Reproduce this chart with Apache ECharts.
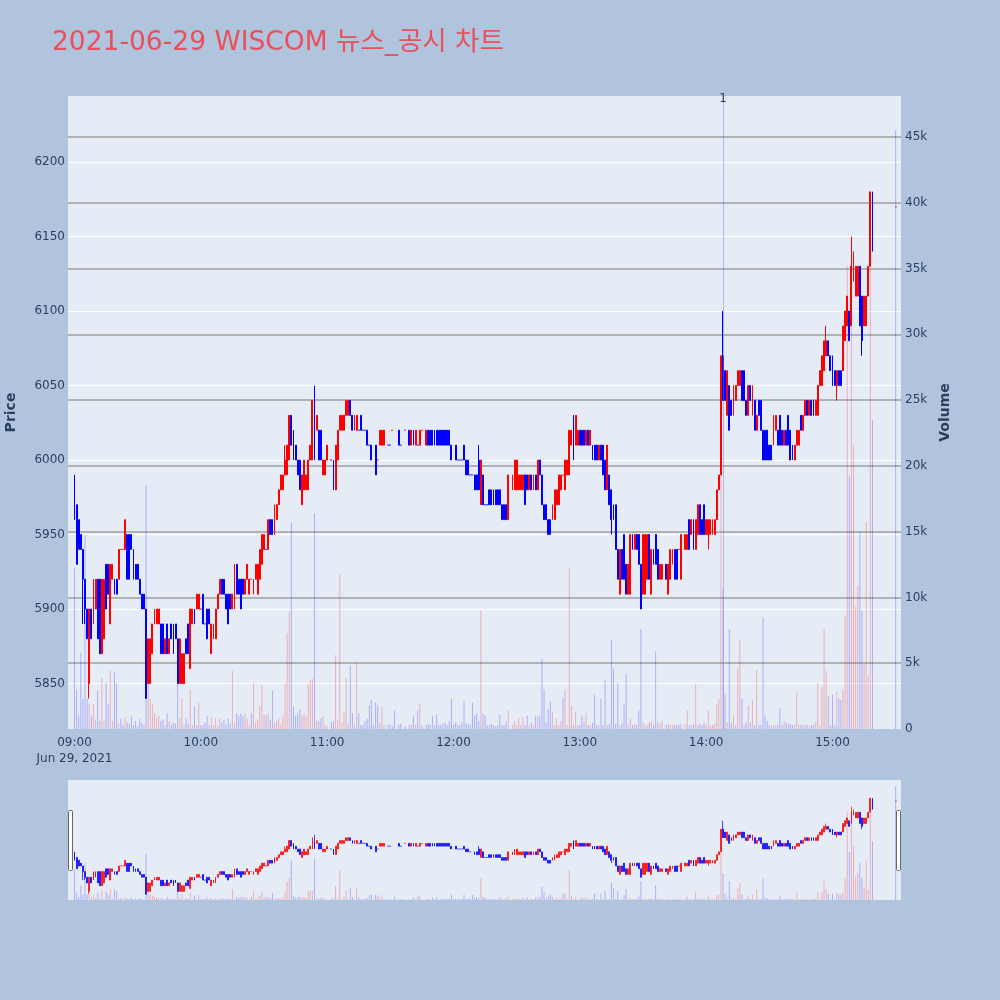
<!DOCTYPE html>
<html><head><meta charset="utf-8">
<script src="https://cdn.jsdelivr.net/npm/echarts@6/dist/echarts.min.js"></script>
<style>html,body{margin:0;padding:0;background:#b0c4de}#c{width:1000px;height:1000px}</style>
</head><body><div id="c"></div>
<script>
const TITLE = '2021-06-29 WISCOM 뉴스_공시 차트';
const EVENT_MINUTE = 308;      // annotation line (14:08)
const EVENT_LABEL = '1';
const PRICE_RANGE = [5819.5, 6244.3];
const VOLUME_RANGE = [0, 48110];
const X_RANGE_MIN = [-2.85, 392.3]; // minutes after 09:00

// rows: [minute after 09:00, open, close, low, high, volume]
const bars0900 = [
[0,5990,5960,5960,5990,12200],[1,5970,5930,5930,5970,3000],[2,5960,5940,5940,5960,1000],[3,5950,5940,5940,5950,5800],[4,5940,5920,5890,5940,2300],[5,5920,5900,5890,5920,14700],[6,5900,5880,5880,5900,2300],[7,5850,5900,5840,5900,1900],[8,5900,5880,5880,5900,1000],[9,5890,5920,5890,5920,1900],
[10,5900,5920,5900,5920,700],[11,5920,5880,5880,5920,2900],[12,5920,5870,5870,5920,600],[13,5870,5920,5870,5920,3900],[14,5880,5920,5880,5920,600],[15,5930,5900,5900,5930,3500],[16,5930,5910,5910,5930,1900],[17,5890,5930,5890,5930,4500],[18,5920,5930,5920,5930,600],[19,5920,5910,5910,5920,4300],
[20,5920,5910,5910,5920,3500],[21,5920,5940,5920,5940,400],[22,5940,5940,5940,5940,800],[23,5940,5940,5940,5940,300],[24,5940,5960,5940,5960,900],[25,5950,5920,5920,5950,500],[26,5950,5920,5920,5950,400],[27,5950,5940,5940,5950,1000],[28,5940,5920,5920,5940,300],[29,5930,5920,5920,5930,600],
[30,5930,5920,5920,5930,200],[31,5920,5910,5910,5920,800],[32,5910,5900,5900,5910,500],[33,5910,5900,5900,5910,300],[34,5900,5840,5840,5900,18500],[35,5850,5880,5850,5880,3500],[36,5850,5880,5850,5880,2300],[37,5870,5890,5870,5890,1900],[38,5890,5900,5890,5900,1200],[39,5890,5900,5890,5900,800],
[40,5890,5900,5890,5900,1000],[41,5890,5870,5870,5890,600],[42,5890,5870,5870,5890,700],[43,5870,5880,5870,5880,300],[44,5890,5870,5870,5890,1200],[45,5870,5880,5870,5880,600],[46,5890,5880,5880,5890,300],[47,5890,5870,5870,5890,500],[48,5890,5880,5880,5890,400],[49,5880,5850,5850,5880,3400],
[50,5850,5880,5850,5880,800],[51,5850,5870,5850,5870,2300],[52,5850,5870,5850,5870,300],[53,5880,5870,5870,5880,800],[54,5890,5870,5870,5890,400],[55,5860,5900,5860,5900,3000],[56,5890,5900,5890,5900,300],[57,5900,5890,5890,5900,1700],[58,5900,5910,5900,5910,300],[59,5900,5910,5900,5910,2000]
];
const bars1000 = [
[60,5900,5900,5900,5900,300],[61,5910,5890,5890,5910,300],[62,5890,5890,5890,5890,500],[63,5900,5880,5880,5900,1000],[64,5900,5890,5890,5900,300],[65,5870,5890,5870,5890,900],[66,5880,5890,5880,5890,300],[67,5880,5900,5880,5900,800],[68,5900,5910,5900,5910,200],[69,5910,5920,5910,5920,800],
[70,5920,5910,5910,5920,500],[71,5920,5910,5910,5920,700],[72,5910,5900,5900,5910,300],[73,5910,5890,5890,5910,800],[74,5910,5900,5900,5910,400],[75,5900,5910,5900,5910,4400],[76,5900,5930,5900,5930,500],[77,5930,5910,5910,5930,1200],[78,5920,5910,5910,5920,1000],[79,5920,5900,5900,5920,1200],
[80,5920,5910,5910,5920,1000],[81,5910,5920,5910,5920,1200],[82,5920,5930,5920,5930,800],[83,5910,5920,5910,5920,300],[84,5920,5920,5920,5920,1200],[85,5910,5920,5910,5920,3500],[86,5920,5930,5920,5930,500],[87,5910,5930,5910,5930,700],[88,5920,5940,5920,5940,1700],[89,5930,5950,5930,5950,3300],
[90,5940,5950,5940,5950,1100],[91,5940,5940,5940,5940,1000],[92,5940,5960,5940,5960,1200],[93,5960,5950,5950,5960,700],[94,5960,5950,5950,5960,2900],[95,5950,5970,5950,5970,500],[96,5960,5970,5960,5970,600],[97,5970,5980,5970,5980,800],[98,5980,5990,5980,5990,400],[99,5980,5990,5980,5990,1000],
[100,5990,6000,5990,6010,3500],[101,5990,6010,5990,6010,7300],[102,6000,6030,6000,6030,8900],[103,6030,6010,6010,6030,15700],[104,6020,6000,6000,6020,1700],[105,6010,6000,6000,6010,1000],[106,6000,5990,5990,6000,1200],[107,6000,5980,5980,6000,1500],[108,5970,5990,5970,5990,1000],[109,5980,6000,5980,6000,1200],
[110,5980,5990,5980,5990,1000],[111,5980,6000,5980,6000,3400],[112,6000,6010,6000,6010,3700],[113,6000,6040,6000,6040,3800],[114,6030,6000,6000,6050,16400],[115,6020,6030,6020,6030,700],[116,6020,6000,6000,6020,600],[117,6020,6000,6000,6020,800],[118,5990,6000,5990,6000,1000],[119,5990,6000,5990,6000,300]
];
const bars1100 = [
[120,6000,6010,6000,6010,200],[122,6000,6000,6000,6000,500],[123,6000,5980,5980,6000,600],[124,5980,6010,5980,6010,5600],[125,6000,6020,6000,6020,700],[126,6020,6030,6020,6030,11700],[127,6020,6030,6020,6030,500],[128,6020,6030,6020,6030,1300],[129,6030,6040,6030,6040,3900],
[130,6030,6040,6030,6040,400],[131,6040,6030,6030,6040,4800],[132,6030,6020,6020,6030,1200],[133,6020,6030,6020,6030,300],[134,6020,6030,6020,6030,5100],[135,6020,6020,6020,6020,1200],[136,6030,6020,6020,6030,300],[137,6020,6020,6020,6020,300],[138,6020,6020,6020,6020,600],[139,6020,6010,6010,6020,800],
[140,6010,6010,6010,6010,1800],[141,6010,6000,6000,6010,2200],[142,6000,6000,6000,6000,300],[143,6010,5990,5990,6010,2000],[144,6000,6000,6000,6000,1800],[145,6010,6020,6010,6020,500],[146,6010,6020,6010,6020,1700],[147,6010,6020,6010,6020,300],[149,6010,6010,6010,6010,300],
[150,6010,6010,6010,6010,300],[151,6020,6020,6020,6020,200],[152,6010,6010,6010,6010,1400],[154,6020,6010,6010,6020,300],[155,6010,6010,6010,6010,400],[157,6020,6020,6020,6020,200],[159,6020,6010,6010,6020,300],
[160,6010,6020,6010,6020,300],[161,6020,6010,6010,6020,1000],[162,6010,6020,6010,6020,300],[163,6010,6010,6010,6010,1400],[164,6010,6020,6010,6020,1900],[165,6020,6020,6020,6020,300],[167,6010,6020,6010,6020,300],[168,6020,6010,6010,6020,400],[169,6020,6010,6010,6020,300],
[170,6020,6010,6010,6020,1000],[171,6020,6010,6010,6020,300],[172,6020,6010,6010,6020,1100],[173,6020,6010,6010,6020,300],[174,6020,6010,6010,6020,300],[175,6020,6010,6010,6020,400],[176,6020,6010,6010,6020,500],[177,6020,6010,6010,6020,300],[178,6020,6010,6010,6020,600],[179,6010,6000,6000,6010,2300]
];
const bars1200 = [
[180,6000,6000,6000,6000,300],[181,6010,6000,6000,6010,500],[182,6000,6000,6000,6000,300],[183,6000,6000,6000,6000,300],[184,6000,6000,6000,6000,500],[185,6010,6000,6000,6010,2100],[186,6000,5990,5990,6000,400],[187,6000,5990,5990,6000,400],[188,5990,5990,5990,5990,300],[189,5990,5990,5990,5990,2000],
[190,5990,5980,5980,5990,1000],[191,5990,5980,5980,5990,1200],[192,6000,5980,5980,6010,600],[193,5970,6000,5970,6000,9000],[194,5990,5970,5970,5990,1200],[195,5970,5970,5970,5970,1000],[196,5970,5970,5970,5970,300],[197,5980,5970,5970,5980,300],[198,5980,5970,5970,5980,400],[199,5980,5970,5970,5980,300],
[200,5980,5970,5970,5980,200],[201,5980,5970,5970,5980,300],[202,5980,5970,5970,5980,1100],[203,5970,5960,5960,5970,300],[204,5970,5960,5960,5970,300],[205,5970,5960,5960,5970,600],[206,5960,5990,5960,5990,1400],[208,5980,5990,5980,5990,300],[209,5980,6000,5980,6000,600],
[210,5980,6000,5980,6000,300],[211,5980,5990,5980,5990,800],[212,5980,5990,5980,5990,300],[213,5980,5990,5980,5990,900],[214,5990,5970,5970,5990,300],[215,5990,5980,5980,5990,1000],[216,5980,5990,5980,5990,300],[217,5990,5980,5980,5990,500],[218,5980,5990,5980,5990,300],[219,5990,5980,5980,5990,1000],
[220,5980,6000,5980,6000,1000],[221,6000,5990,5990,6000,1000],[222,5990,5970,5970,5990,5300],[223,5970,5960,5960,5970,3000],[224,5970,5960,5960,5970,500],[225,5960,5950,5950,5960,1500],[226,5960,5950,5950,5960,2100],[227,5960,5970,5960,5970,1300],[228,5960,5980,5960,5980,300],[229,5970,5980,5970,5980,800],
[230,5970,5990,5970,5990,300],[231,5980,5990,5980,5990,600],[232,5990,5990,5990,5990,2400],[233,5980,6000,5980,6000,3000],[234,5990,6000,5990,6000,300],[235,5990,6020,5990,6020,12200],[236,6010,6020,6010,6020,1700],[237,6030,6000,6000,6030,300],[238,6010,6030,6010,6030,1300],[239,6010,6020,6010,6020,300]
];
const bars1300 = [
[240,6020,6010,6010,6020,300],[241,6020,6010,6010,6020,1000],[242,6020,6010,6010,6020,500],[243,6010,6020,6010,6020,1200],[244,6020,6010,6010,6020,300],[245,6010,6020,6010,6020,300],[246,6010,6000,6000,6010,500],[247,6010,6000,6000,6010,2600],[248,6010,6000,6000,6010,300],[249,6000,6010,6000,6010,300],
[250,6010,6000,6000,6010,2300],[251,6010,5990,5990,6010,300],[252,6000,5980,5980,6000,3700],[253,5980,6010,5980,6010,300],[254,5990,5970,5970,5990,400],[255,5980,5960,5950,5980,6800],[256,5970,5960,5960,5970,4600],[257,5970,5940,5940,5970,400],[258,5940,5920,5920,5940,3500],[259,5910,5940,5910,5940,300],
[260,5940,5920,5920,5940,400],[261,5950,5920,5920,5950,1900],[262,5930,5910,5910,5930,4200],[263,5910,5930,5910,5930,400],[264,5910,5950,5910,5950,800],[265,5950,5940,5940,5950,300],[266,5940,5950,5940,5950,400],[267,5950,5940,5940,5950,300],[268,5950,5930,5930,5950,1400],[269,5930,5900,5900,5930,7600],
[270,5910,5950,5910,5950,500],[271,5910,5950,5910,5950,300],[272,5920,5950,5920,5950,300],[273,5950,5920,5920,5950,500],[274,5910,5940,5910,5940,600],[275,5940,5930,5930,5940,300],[276,5950,5930,5930,5950,5900],[277,5940,5920,5920,5940,500],[278,5920,5930,5920,5930,400],[279,5920,5930,5920,5930,600],
[281,5930,5920,5920,5930,300],[282,5910,5930,5910,5930,400],[283,5920,5940,5920,5940,300],[284,5930,5940,5930,5940,300],[285,5940,5920,5920,5940,300],[286,5940,5920,5920,5940,300],[287,5940,5940,5940,5940,300],[288,5920,5950,5920,5950,400],
[290,5940,5950,5940,5950,300],[291,5940,5950,5940,5950,1400],[292,5960,5940,5940,5960,300],[293,5950,5960,5950,5960,300],[294,5960,5940,5940,5960,400],[295,5940,5960,5940,5960,3400],[296,5950,5970,5950,5970,300],[297,5970,5950,5950,5970,400],[298,5960,5950,5950,5960,300],[299,5970,5950,5950,5970,500]
];
const bars1400 = [
[300,5950,5960,5950,5960,300],[301,5950,5960,5940,5960,1400],[302,5950,5960,5950,5960,300],[303,5950,5960,5950,5960,300],[304,5950,5960,5950,5960,400],[305,5960,5980,5960,5980,1900],[306,5980,5990,5980,5990,2300],[307,5990,6070,5990,6070,19300],[308,6070,6040,6040,6100,10700],[309,6060,6040,6040,6060,2600],
[310,6030,6060,6030,6060,500],[311,6050,6020,6020,6050,7600],[312,6040,6030,6030,6040,500],[313,6030,6050,6030,6050,1000],[314,6040,6050,6040,6050,300],[315,6050,6060,6050,6060,4600],[316,6050,6060,6050,6060,6800],[317,6060,6040,6040,6060,2300],[318,6060,6040,6040,6060,300],[319,6040,6030,6030,6040,500],
[320,6030,6050,6030,6050,1800],[321,6050,6040,6040,6050,500],[322,6030,6050,6030,6050,2200],[323,6040,6020,6020,6040,300],[324,6020,6030,6020,6030,4500],[325,6040,6030,6030,6040,300],[326,6040,6020,6020,6040,300],[327,6020,6000,6000,6020,8500],[328,6020,6000,6000,6020,1000],[329,6020,6000,6000,6020,600],
[330,6010,6000,6000,6010,300],[331,6010,6000,6000,6010,200],[332,6010,6030,6010,6030,300],[333,6020,6030,6020,6030,300],[334,6020,6010,6010,6020,300],[335,6030,6010,6010,6030,1600],[336,6020,6010,6010,6020,300],[337,6010,6020,6010,6020,600],[338,6020,6010,6010,6020,500],[339,6030,6010,6010,6030,400],
[340,6020,6000,6000,6020,400],[341,6010,6000,6000,6010,300],[342,6000,6010,6000,6010,300],[343,6010,6020,6010,6020,2800],[344,6010,6020,6010,6020,300],[345,6030,6020,6020,6030,300],[346,6020,6030,6020,6030,300],[347,6030,6040,6030,6040,300],[348,6040,6030,6030,6040,300],[349,6030,6040,6030,6040,200],
[350,6040,6030,6030,6040,300],[351,6040,6030,6030,6040,300],[352,6030,6040,6030,6040,500],[353,6030,6050,6030,6050,3500],[354,6050,6060,6050,6060,300],[355,6050,6070,6050,6070,3200],[356,6060,6080,6060,6080,7600],[357,6070,6080,6070,6090,4400],[358,6080,6070,6070,6080,2500],[359,6070,6060,6060,6070,300]
];
const bars1500 = [
[360,6070,6050,6050,6070,2600],[361,6060,6050,6050,6060,300],[362,6050,6060,6040,6060,2800],[363,6060,6050,6050,6060,2300],[364,6060,6050,6050,6060,2200],[365,6060,6090,6060,6090,3000],[366,6080,6100,6080,6100,8600],[367,6090,6110,6090,6110,35200],[368,6100,6080,6080,6100,19200],[369,6090,6130,6090,6150,35000],
[370,6120,6130,6120,6140,21600],[371,6110,6130,6110,6130,9300],[372,6110,6130,6110,6130,10900],[373,6130,6090,6090,6130,15000],[374,6110,6080,6070,6110,9000],[375,6090,6110,6090,6110,5000],[376,6090,6110,6090,6110,15700],[377,6110,6130,6110,6130,4000],[378,6130,6180,6130,6180,35000],[379,6180,6140,6140,6180,23500],
[390,6170,6170,6170,6170,45500]
];

const RED = '#ff0000', BLUE = '#0000ff';
const VRED = 'rgba(255,0,0,0.26)', VBLUE = 'rgba(0,0,255,0.26)';
const FONT = "'DejaVu Sans', 'Noto Sans CJK KR', sans-serif";
const INK = '#2a3f5f';

const T0 = Date.UTC(2021, 5, 29, 9, 0, 0);
const MS = 60000;
const toT = m => T0 + m * MS;

const rows = [].concat(bars0900, bars1000, bars1100, bars1200, bars1300, bars1400, bars1500);
let inc = true, prevC = null;
const candleData = [], volData = [];
for (const [m, o, c, l, h, v] of rows) {
  if (c !== o) inc = c > o; else if (prevC !== null && c !== prevC) inc = c > prevC;
  prevC = c;
  const col = inc ? RED : BLUE;
  candleData.push({ value: [toT(m), o, c, l, h], itemStyle: { color: col, color0: col, borderColor: col, borderColor0: col, borderColorDoji: col } });
  volData.push({ value: [toT(m), v], itemStyle: { color: c > o ? VRED : VBLUE } });
}

const xMin = toT(X_RANGE_MIN[0]), xMax = toT(X_RANGE_MIN[1]);
function fmtTime(val) {
  const d = new Date(val);
  const hh = String(d.getUTCHours()).padStart(2, '0');
  const mm = String(d.getUTCMinutes()).padStart(2, '0');
  let s = hh + ':' + mm;
  if (d.getUTCHours() === 9 && d.getUTCMinutes() === 0) s += '\nJun 29, 2021';
  return s;
}
const candleStyle = { color: RED, color0: BLUE, borderColor: RED, borderColor0: BLUE, borderColorDoji: BLUE, borderWidth: 1 };
const miniStyle = { color: RED, color0: BLUE, borderColor: RED, borderColor0: BLUE, borderColorDoji: BLUE, borderWidth: 0.7 };

const chart = echarts.init(document.getElementById('c'), null, { renderer: 'canvas', width: 1000, height: 1000 });
chart.setOption({
  useUTC: true,
  animation: false,
  backgroundColor: '#b0c4de',
  textStyle: { fontFamily: FONT },
  title: {
    text: TITLE, left: 47, top: 25,
    textStyle: { color: '#e8505b', fontSize: 26.5, fontWeight: 'normal', fontFamily: FONT }
  },
  grid: [
    { left: 68, right: 99, top: 96, height: 633, containLabel: false, outerBoundsMode: 'none', show: true, backgroundColor: '#e5ecf6', borderWidth: 0 },
    { left: 68, right: 99, top: 780, height: 120, containLabel: false, outerBoundsMode: 'none', show: true, backgroundColor: '#e5ecf6', borderWidth: 0 }
  ],
  xAxis: [
    {
      type: 'time', gridIndex: 0, min: xMin, max: xMax,
      minInterval: 3600000, maxInterval: 3600000, splitNumber: 7,
      axisLine: { show: false }, axisTick: { show: false }, splitLine: { show: false },
      axisLabel: { formatter: fmtTime, color: INK, fontSize: 12, fontFamily: FONT, margin: 6, lineHeight: 16, hideOverlap: false }
    },
    { type: 'time', gridIndex: 1, min: xMin, max: xMax, show: false, splitLine: { show: false } }
  ],
  yAxis: [
    {
      type: 'value', gridIndex: 0, position: 'left', min: PRICE_RANGE[0], max: PRICE_RANGE[1], splitNumber: 8, scale: true,
      axisLine: { show: false }, axisTick: { show: false },
      axisLabel: { color: INK, fontSize: 12, fontFamily: FONT, margin: 3, showMinLabel: false, showMaxLabel: false, formatter: v => String(v) },
      splitLine: { show: true, showMinLine: false, showMaxLine: false, lineStyle: { color: '#ffffff', width: 1 } },
      name: 'Price', nameLocation: 'middle', nameGap: 50, nameRotate: 90,
      nameTextStyle: { color: INK, fontSize: 14, fontWeight: 'bold', fontFamily: FONT }
    },
    {
      type: 'value', gridIndex: 0, position: 'right', min: VOLUME_RANGE[0], max: VOLUME_RANGE[1], splitNumber: 10,
      axisLine: { show: false }, axisTick: { show: false },
      axisLabel: { color: INK, fontSize: 12, fontFamily: FONT, margin: 4, showMaxLabel: false,
        formatter: v => v === 0 ? '0' : (v / 1000) + 'k' },
      splitLine: { show: true, showMinLine: false, showMaxLine: false, lineStyle: { color: '#9f9f9f', width: 1.5 } },
      name: 'Volume', nameLocation: 'middle', nameGap: 36, nameRotate: 90,
      nameTextStyle: { color: INK, fontSize: 14, fontWeight: 'bold', fontFamily: FONT }
    },
    { type: 'value', gridIndex: 1, min: PRICE_RANGE[0], max: PRICE_RANGE[1], show: false, splitLine: { show: false } },
    { type: 'value', gridIndex: 1, min: VOLUME_RANGE[0], max: VOLUME_RANGE[1], show: false, splitLine: { show: false } }
  ],
  series: [
    { type: 'bar', name: 'Volume', xAxisIndex: 0, yAxisIndex: 1, barWidth: 1, data: volData, z: 1, silent: true },
    {
      type: 'candlestick', name: 'Price', xAxisIndex: 0, yAxisIndex: 0, barWidth: 1.4, data: candleData, z: 3,
      encode: { x: 0, y: [1, 2, 3, 4] }, silent: true,
      itemStyle: candleStyle,
      markLine: {
        silent: true, symbol: 'none', animation: false,
        lineStyle: { color: 'rgba(110,120,235,0.45)', width: 1, type: 'solid' },
        label: { show: true, position: 'end', formatter: EVENT_LABEL, color: INK, fontSize: 12, fontFamily: FONT, distance: -9 },
        data: [{ xAxis: toT(EVENT_MINUTE) }]
      }
    },
    { type: 'bar', xAxisIndex: 1, yAxisIndex: 3, barWidth: 1, data: volData, z: 1, silent: true },
    {
      type: 'candlestick', xAxisIndex: 1, yAxisIndex: 2, barWidth: 1.35, data: candleData, z: 3,
      encode: { x: 0, y: [1, 2, 3, 4] }, silent: true, itemStyle: miniStyle
    }
  ],
  graphic: [
    { type: 'rect', left: 68, top: 810, shape: { width: 4, height: 60, r: 1 }, style: { fill: '#ffffff', stroke: '#666', lineWidth: 1 }, z: 100 },
    { type: 'rect', left: 896, top: 810, shape: { width: 4, height: 60, r: 1 }, style: { fill: '#ffffff', stroke: '#666', lineWidth: 1 }, z: 100 }
  ]
});
</script></body></html>
